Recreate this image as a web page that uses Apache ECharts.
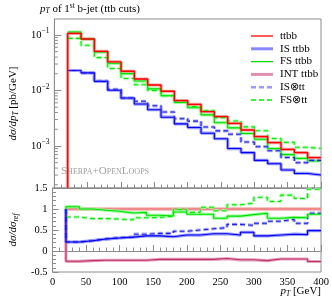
<!DOCTYPE html>
<html><head><meta charset="utf-8">
<script src="https://cdn.jsdelivr.net/npm/echarts@6/dist/echarts.min.js"></script>
<style>html,body{margin:0;padding:0;background:#fff}#c{width:332px;height:300px}</style>
</head><body><div id="c"></div>
<script>
// bin edges (GeV)
const binEdges = [20,40,60,80,100,120,140,160,180,200,220,240,260,280,300,320,340,360,380,400];
// upper panel: dsigma/dpT [pb/GeV]
const ttbb   = [0.107,0.0847,0.0508,0.0327,0.0222,0.0161,0.01256,0.00968,0.00655,0.0056,0.00415,0.00337,0.00256,0.00194,0.00147,0.00115,0.000872,0.000757,0.000615];
const isTtbb = [0.0229,0.0208,0.0146,0.0101,0.0073,0.0057,0.0045,0.0033,0.0025,0.00215,0.0017,0.00135,0.0009,0.00076,0.00055,0.00048,0.00037,0.00032,0.0003];
const fsTtbb = [0.1129,0.0847,0.0493,0.0309,0.0201,0.0148,0.01068,0.00806,0.00609,0.0049,0.00363,0.00263,0.00212,0.00168,0.00132,0.000897,0.000698,0.000598,0.000538];
const isTt   = [0.0229,0.0208,0.0147,0.0105,0.0073,0.0064,0.0053,0.0041,0.0031,0.0028,0.0022,0.00187,0.00163,0.00118,0.00097,0.00082,0.00062,0.0005,0.00055];
const fsTt   = [0.0867,0.0652,0.0391,0.0249,0.0164,0.0127,0.01005,0.00803,0.00648,0.00515,0.00432,0.00324,0.00282,0.00221,0.00188,0.00136,0.00116,0.000946,0.000904];
// lower panel: ratios to ttbb
const rRef  = [1,1,1,1,1,1,1,1,1,1,1,1,1,1,1,1,1,1,1];
const rIS   = [0.214,0.245,0.285,0.31,0.33,0.36,0.36,0.34,0.38,0.38,0.41,0.41,0.38,0.445,0.36,0.38,0.4,0.39,0.485];
const rFS   = [1.055,1.0,0.97,0.945,0.905,0.92,0.85,0.833,0.93,0.875,0.875,0.78,0.83,0.865,0.9,0.78,0.8,0.79,0.875];
const rINT  = [-0.245,-0.23,-0.22,-0.22,-0.22,-0.22,-0.2,-0.2,-0.2,-0.2,-0.2,-0.18,-0.21,-0.21,-0.23,-0.19,-0.19,-0.19,-0.25];
const rISTT = [0.214,0.245,0.29,0.32,0.33,0.4,0.42,0.42,0.47,0.5,0.53,0.555,0.635,0.61,0.66,0.71,0.755,0.66,0.9];
const rFSTT = [0.81,0.77,0.77,0.76,0.74,0.79,0.8,0.83,0.99,0.92,1.04,0.96,1.1,1.14,1.28,1.18,1.33,1.25,1.47];
const xTicks = [0,50,100,150,200,250,300,350,400];
const ratioTicks = [-0.5,0,0.5,1,1.5];
const legendNames = ['ttbb','IS ttbb','FS ttbb','INT ttbb','IS⊗tt','FS⊗tt'];

const Y_MIN = Math.pow(10,-3.757), Y_MAX = Math.pow(10,-0.712);
const FONT = 'Liberation Serif';

function steps(vals, start) {
  const pts = binEdges.slice(0,-1).map((e,i)=>[e, vals[i]]);
  pts.push([binEdges[binEdges.length-1], vals[vals.length-1]]);
  if (start !== undefined) pts.unshift([binEdges[0], start]);
  return pts;
}
const C = {
  ttbb:{line:'#ff0000', band:'#f08a8a'},
  is:{line:'#0000ee', band:'#8888ff'},
  fs:{line:'#00dd00', band:'#88ff88'},
  int:{line:'#c0306a', band:'#e08fb0'},
  istt:{line:'#2020ee', band:'#9a9aff'},
  fstt:{line:'#00ee00', band:'#99ff99'}
};
function pair(name, vals, col, dashed, xi, yi, start, lw) {
  const t = dashed ? [5,3] : 'solid';
  return [
    {type:'line', name:'', xAxisIndex:xi, yAxisIndex:yi, step:'end', symbol:'none', silent:true,
     data:steps(vals,start), lineStyle:{color:col.band, width:3.2, type:t, opacity:0.85}, z:2},
    {type:'line', name:name, xAxisIndex:xi, yAxisIndex:yi, step:'end', symbol:'none', silent:true,
     data:steps(vals,start), lineStyle:{color:col.line, width:lw||1.1, type:t}, itemStyle:{color:col.line}, z:3}
  ];
}
// log minor ticks
const minorVals = [];
for (let k=-4;k<=-1;k++) for (let m=2;m<=9;m++){const v=m*Math.pow(10,k); if(v>Y_MIN&&v<Y_MAX) minorVals.push(v);}

const axisGray = '#8c8c8c';
const chart = echarts.init(document.getElementById('c'), null, {renderer:'canvas'});
const series = [];
series.push(...pair('IS ttbb', isTtbb, C.is, false, 0, 0));
series.push(...pair('FS ttbb', fsTtbb, C.fs, false, 0, 0));
series.push(...pair('IS⊗tt', isTt, C.istt, true, 0, 0));
series.push(...pair('FS⊗tt', fsTt, C.fstt, true, 0, 0));
series.push(...pair('ttbb', ttbb, C.ttbb, false, 0, 0, Y_MIN, 1.3));
series.push({type:'custom', xAxisIndex:0, yAxisIndex:0, silent:true, z:5,
  data: minorVals.map(v=>[0,v]),
  renderItem:(params, api)=>{ const p = api.coord([0, api.value(1)]);
    return {type:'line', shape:{x1:p[0], y1:p[1], x2:p[0]+3.5, y2:p[1]}, style:{stroke:axisGray, lineWidth:1}}; }});
// lower panel
series.push({type:'line', name:'', xAxisIndex:1, yAxisIndex:1, step:'end', symbol:'none', silent:true,
  data:steps(rRef), lineStyle:{color:'#f08a8a', width:3.2}, z:2});
series.push(...pair('', rINT, C.int, false, 1, 1, 1));
series.push(...pair('', rFSTT, C.fstt, true, 1, 1, 1));
series.push(...pair('', rISTT, C.istt, true, 1, 1, 1));
series.push(...pair('', rFS, C.fs, false, 1, 1, 1));
series.push(...pair('', rIS, C.is, false, 1, 1, 1));

// legend drawn as graphic (line sample + label)
const legendStyles = [
  {stroke:C.ttbb.line, lineWidth:1.3},
  {stroke:C.is.band, lineWidth:3},
  {stroke:C.fs.line, lineWidth:1.3},
  {stroke:C.int.band, lineWidth:3},
  {stroke:C.istt.band, lineWidth:2.5, lineDash:[5,3]},
  {stroke:C.fstt.line, lineWidth:1.3, lineDash:[5,3]}
];
const legendGraphics = [];
legendNames.forEach((n,i)=>{
  const y = 36 + i*12.8;
  legendGraphics.push({type:'line', shape:{x1:251, y1:y, x2:273, y2:y}, style:legendStyles[i], silent:true});
  legendGraphics.push({type:'text', x:280, y:y, style:{text:n, fill:'#000', font:'11px '+FONT, textVerticalAlign:'middle', verticalAlign:'middle'}, silent:true});
});

const xCommon = {type:'value', min:xTicks[0], max:xTicks[xTicks.length-1], interval:50,
  axisLine:{lineStyle:{color:axisGray}}, splitLine:{show:false},
  axisTick:{inside:true, length:6, lineStyle:{color:axisGray}},
  minorTick:{show:true, splitNumber:5, length:3.5, lineStyle:{color:axisGray}}};

const option = {
  animation:false,
  textStyle:{fontFamily:FONT},
  grid:[
    {left:41, top:19, width:280, height:169, show:true, borderColor:axisGray, borderWidth:1, backgroundColor:'transparent'},
    {left:41, top:188, width:280, height:84, show:true, borderColor:axisGray, borderWidth:1, backgroundColor:'transparent'}
  ],
  xAxis:[
    Object.assign({gridIndex:0, axisLabel:{show:false}}, xCommon),
    Object.assign({gridIndex:1, axisLabel:{show:true, margin:5, fontSize:10.5, color:'#000', fontFamily:FONT,
       customValues:xTicks}}, xCommon)
  ],
  yAxis:[
    {type:'log', gridIndex:0, min:Y_MIN, max:Y_MAX, logBase:10,
     axisLine:{show:true, lineStyle:{color:axisGray}}, splitLine:{show:false},
     axisTick:{inside:true, length:7, lineStyle:{color:axisGray}},
     axisLabel:{margin:5, showMinLabel:false, showMaxLabel:false, color:'#000', fontFamily:FONT,
       formatter:(v)=>{const e=Math.round(Math.log10(v)); return '{b|10}{s|−'+Math.abs(e)+'}';},
       rich:{b:{fontSize:10.5, fontFamily:FONT, color:'#000'}, s:{fontSize:7.5, fontFamily:FONT, color:'#000', padding:[0,0,7,0]}}},
     name:'{i|dσ/dp}{sub|T} [pb/GeV]', nameLocation:'middle', nameGap:27, nameRotate:90,
     nameTextStyle:{color:'#000', fontFamily:FONT, fontSize:11,
       rich:{i:{fontStyle:'italic', fontSize:11, fontFamily:FONT}, sub:{fontStyle:'italic', fontSize:7.5, fontFamily:FONT, padding:[5,0,0,0]}}}},
    {type:'value', gridIndex:1, min:ratioTicks[0], max:ratioTicks[ratioTicks.length-1], interval:0.5,
     axisLine:{show:true, lineStyle:{color:axisGray}}, splitLine:{show:false},
     axisTick:{inside:true, length:6, lineStyle:{color:axisGray}},
     minorTick:{show:true, splitNumber:5, length:3.5, lineStyle:{color:axisGray}},
     axisLabel:{margin:5, fontSize:10.5, color:'#000', fontFamily:FONT,
       formatter:(v)=> (v<0?'-':'') + Math.abs(v)},
     name:'{i|dσ/dσ}{sub|ref}', nameLocation:'middle', nameGap:27, nameRotate:90,
     nameTextStyle:{color:'#000', fontFamily:FONT, fontSize:11,
       rich:{i:{fontStyle:'italic', fontSize:11, fontFamily:FONT}, sub:{fontStyle:'italic', fontSize:7.5, fontFamily:FONT, padding:[5,0,0,0]}}}}
  ],
  graphic:[
    {type:'text', left:40, top:2, style:{text:'{i|p}{sub|T} of 1{sup|st} b-jet (ttb cuts)', fill:'#000',
      font:'11px '+FONT,
      rich:{i:{fontStyle:'italic', fontSize:11, fontFamily:FONT}, sub:{fontStyle:'italic', fontSize:7.5, fontFamily:FONT, padding:[5,0,0,0]},
            sup:{fontSize:7.5, fontFamily:FONT, padding:[0,0,6,0]}}}},
    {type:'text', left:61, top:166, style:{text:'{a|S}{b|HERPA}{a|+O}{b|PEN}{a|L}{b|OOPS}', fill:'#a0a0a0',
      rich:{a:{fontSize:11, fontFamily:FONT, fill:'#a0a0a0'}, b:{fontSize:8, fontFamily:FONT, fill:'#a0a0a0'}}}},
    {type:'text', right:11, top:286, style:{text:'{i|p}{sub|T} [GeV]', fill:'#000', font:'11px '+FONT,
      rich:{i:{fontStyle:'italic', fontSize:11, fontFamily:FONT}, sub:{fontStyle:'italic', fontSize:7.5, fontFamily:FONT, padding:[5,0,0,0]}}}},
    ...legendGraphics
  ],
  series: series
};
chart.setOption(option);
</script></body></html>
